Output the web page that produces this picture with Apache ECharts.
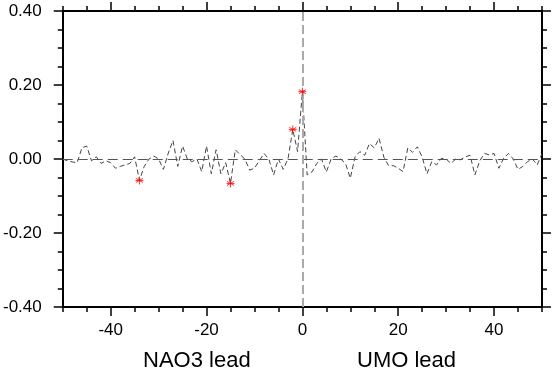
<!DOCTYPE html>
<html><head><meta charset="utf-8">
<script src="https://cdn.jsdelivr.net/npm/echarts@6/dist/echarts.min.js"></script>
<style>html,body{margin:0;padding:0;background:#fff}#c{width:553px;height:372px}</style>
</head><body><div id="c"></div>
<script>
const lags = [];
for (let l = -50; l <= 50; l++) lags.push(l);
const corr = [
 0.0, -0.005, -0.008, -0.01, 0.03, 0.035, -0.005, 0.006, -0.012, -0.005,
 -0.01, -0.025, -0.02, -0.016, -0.012, 0.006, -0.058, -0.02, 0.0, 0.008,
 0.0, -0.028, 0.015, 0.05, -0.02, 0.035, 0.0, -0.007, 0.0, -0.034,
 0.035, -0.04, 0.025, -0.04, -0.01, -0.066, 0.025, 0.012, 0.0, -0.03,
 -0.025, -0.005, 0.015, 0.0, -0.043, 0.0, -0.028, 0.0, 0.08, 0.02,
 0.182,
 -0.043, -0.035, -0.012, 0.0, -0.035, 0.0, 0.008, 0.0, -0.012, -0.052,
 0.006, 0.02, 0.01, 0.042, 0.03, 0.056, 0.005, -0.018, -0.018, -0.025,
 -0.034, 0.03, 0.018, 0.033, 0.005, -0.04, -0.007, -0.016, 0.002, 0.0,
 -0.012, 0.0, -0.002, 0.006, 0.01, -0.043, -0.005, 0.015, 0.011, 0.015,
 -0.025, 0.002, 0.015, 0.0, -0.028, -0.02, -0.007, 0.0, -0.016, 0.015
];
const sigLags = [-34, -15, -2, 0];
const sigValues = [-0.058, -0.066, 0.08, 0.182];
const xMajorTicks = [-40, -20, 0, 20, 40];
const xLabels = ['NAO3 lead', 'UMO lead'];

const FONT = 'Liberation Sans';
const majorX = {min:-50,max:50,type:'value',axisLine:{show:false,onZero:false},splitLine:{show:false},
  axisTick:{show:true,inside:false,length:9,lineStyle:{color:'#000',width:1.5},customValues:xMajorTicks},
  axisLabel:{show:false}};
const minorX = {min:-50,max:50,type:'value',interval:5,splitLine:{show:false},
  axisLine:{show:true,onZero:false,lineStyle:{color:'#000',width:2}},
  axisTick:{show:true,inside:false,length:5,lineStyle:{color:'#000',width:1.5}},
  axisLabel:{show:false}};
const yCommon = {type:'value',min:-0.4,max:0.4,interval:0.2,splitLine:{show:false},
  axisLine:{show:true,onZero:false,lineStyle:{color:'#000',width:2}},
  axisTick:{show:true,inside:false,length:9,lineStyle:{color:'#000',width:1.5}},
  minorTick:{show:true,splitNumber:4,length:5,lineStyle:{color:'#000',width:1.5}}};

const chart = echarts.init(document.getElementById('c'), null, {renderer:'canvas'});
chart.setOption({
  animation:false,
  backgroundColor:'#fff',
  grid:{left:62,right:11,top:11,bottom:65,containLabel:false},
  xAxis:[
    Object.assign({}, minorX, {position:'bottom',offset:0,
      axisLabel:{show:true,margin:15,fontFamily:FONT,fontSize:17,color:'#000',
        formatter:v=> (v%20===0 ? String(v) : '')}}),
    Object.assign({}, majorX, {position:'bottom',offset:0}),
    Object.assign({}, minorX, {position:'top',offset:0}),
    Object.assign({}, majorX, {position:'top',offset:0})
  ],
  yAxis:[
    Object.assign({}, yCommon, {position:'left',
      axisLabel:{show:true,margin:21,fontFamily:FONT,fontSize:17,color:'#000',formatter:v=>v.toFixed(2)}}),
    Object.assign({}, yCommon, {position:'right',axisLabel:{show:false}})
  ],
  series:[
    {type:'line',xAxisIndex:0,yAxisIndex:0,data:lags.map((l,i)=>[l,corr[i]]),
     showSymbol:false,symbol:'none',lineStyle:{color:'#444',width:1,type:[5,3]},z:3,
     markLine:{silent:true,symbol:'none',label:{show:false},
       data:[
         {yAxis:0,lineStyle:{color:'#555',width:1,type:[10,5]}},
         {xAxis:0,lineStyle:{color:'#aaa',width:2,type:[9,4]}}
       ]}},
    {type:'scatter',xAxisIndex:0,yAxisIndex:0,data:sigLags.map((l,i)=>[l,sigValues[i]]),
     symbol:'path://M0,-10L0,10M-8.66,-5L8.66,5M-8.66,5L8.66,-5M-10,0L10,0',
     symbolSize:8,itemStyle:{color:'rgba(0,0,0,0)',borderColor:'#f00',borderWidth:1},z:5}
  ],
  graphic:[
    {type:'text',left:143,top:350,style:{text:xLabels[0],font:'22px "Liberation Sans"',fill:'#000'}},
    {type:'text',left:357,top:350,style:{text:xLabels[1],font:'22px "Liberation Sans"',fill:'#000'}}
  ]
});
</script></body></html>
